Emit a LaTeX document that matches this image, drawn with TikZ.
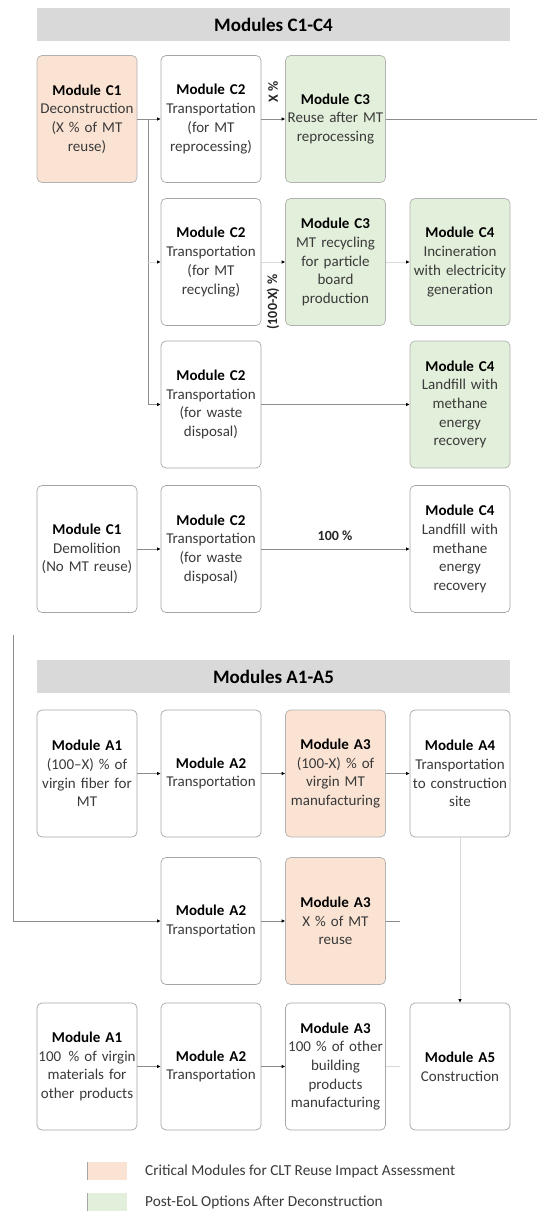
\documentclass[tikz,border=0pt]{standalone}
\usepackage{fontspec}
\setmainfont{Carlito}
\usetikzlibrary{arrows.meta}
\definecolor{peach}{HTML}{FBE3D3}
\definecolor{mint}{HTML}{E2EFDA}
\definecolor{hdr}{HTML}{D9D9D9}
\definecolor{txt}{HTML}{3A3A3A}
\begin{document}
\begin{tikzpicture}[x=1pt,y=-1pt,
  box/.style={draw=black!35, line width=0.7pt, rounded corners=5pt, fill=white,
    minimum width=100pt, minimum height=127pt, text width=100pt, align=center,
    inner sep=0pt, text=txt, font=\fontsize{15}{18.7}\selectfont},
  crit/.style={box, fill=peach, draw=black!30},
  post/.style={box, fill=mint, draw=black!30},
  conn/.style={draw=black!45, line width=0.7pt, -{Latex[length=3.5pt,width=3.5pt,black]}},
  faint/.style={draw=black!15, line width=0.7pt, -{Latex[length=3.5pt,width=3.5pt,black]}},
  plain/.style={draw=black!45, line width=0.7pt},
  hdrbar/.style={fill=hdr, draw=none, minimum width=473pt, minimum height=33pt,
    font=\bfseries\fontsize{19}{22}\selectfont, inner sep=0pt},
  lbl/.style={font=\bfseries\fontsize{14}{16}\selectfont, text=black!85, inner sep=1pt},
  legtxt/.style={font=\fontsize{15.3}{17}\selectfont, text=txt, anchor=west, inner sep=0pt}
]
\useasboundingbox (0,0) rectangle (539,1211);
% headers
\node[hdrbar] (hc) at (273.5,24.5) {Modules C1-C4};
\node[hdrbar] (ha) at (273.5,676.5) {Modules A1-A5};
% C rows
\node[crit] (c1a) at (87,119) {\textbf{\color{black}Module C1}\\Deconstruction\\(X \% of MT\\reuse)};
\node[box] (c2a) at (211,119) {\textbf{\color{black}Module C2}\\Transportation\\(for MT\\reprocessing)};
\node[post] (c3a) at (335.5,119) {\textbf{\color{black}Module C3}\\Reuse after MT\\reprocessing};
\node[box] (c2b) at (211,262) {\textbf{\color{black}Module C2}\\Transportation\\(for MT\\recycling)};
\node[post] (c3b) at (335.5,262) {\textbf{\color{black}Module C3}\\MT recycling\\for particle\\board\\production};
\node[post] (c4b) at (460,262) {\textbf{\color{black}Module C4}\\Incineration\\with electricity\\generation};
\node[box] (c2c) at (211,404.5) {\textbf{\color{black}Module C2}\\Transportation\\(for waste\\disposal)};
\node[post] (c4c) at (460,404.5) {\textbf{\color{black}Module C4}\\Landfill with\\methane\\energy\\recovery};
\node[box] (c1d) at (87,549) {\textbf{\color{black}Module C1}\\Demolition\\(No MT reuse)};
\node[box] (c2d) at (211,549) {\textbf{\color{black}Module C2}\\Transportation\\(for waste\\disposal)};
\node[box] (c4d) at (460,549) {\textbf{\color{black}Module C4}\\Landfill with\\methane\\energy\\recovery};
% A rows
\node[box] (a1a) at (87,773.5) {\textbf{\color{black}Module A1}\\(100--X) \% of\\virgin fiber for\\MT};
\node[box] (a2a) at (211,773.5) {\textbf{\color{black}Module A2}\\Transportation};
\node[crit] (a3a) at (335.5,773.5) {\textbf{\color{black}Module A3}\\(100-X) \% of\\virgin MT\\manufacturing};
\node[box] (a4a) at (460,773.5) {\textbf{\color{black}Module A4}\\Transportation\\to construction\\site};
\node[box] (a2b) at (211,921) {\textbf{\color{black}Module A2}\\Transportation};
\node[crit] (a3b) at (335.5,921) {\textbf{\color{black}Module A3}\\X \% of MT\\reuse};
\node[box] (a1c) at (87,1066.5) {\textbf{\color{black}Module A1}\\\mbox{100~\,\% of virgin}\\materials for\\other products};
\node[box] (a2c) at (211,1066.5) {\textbf{\color{black}Module A2}\\Transportation};
\node[box] (a3c) at (335.5,1066.5) {\textbf{\color{black}Module A3}\\100 \% of other\\building\\products\\manufacturing};
\node[box] (a5c) at (460,1066.5) {\textbf{\color{black}Module A5}\\Construction};
% coordinates
\coordinate (j1) at (148,119);
\coordinate (j2) at (148,262);
\coordinate (j3) at (148,404.5);
\coordinate (re) at (537,119);
\coordinate (l0) at (13,635);
\coordinate (l1) at (13,921);
\coordinate (s1) at (400,921);
\coordinate (s2) at (400,1066.5);
% C connectors
\draw[conn] (c1a.east) -- (c2a.west);
\draw[plain] (j1) -- (j3);
\draw[faint] (j2) -- (c2b.west);
\draw[conn] (j3) -- (c2c.west);
\draw[conn] (c2a.east) -- (c3a.west);
\draw[plain] (c3a.east) -- (re);
\draw[faint] (c2b.east) -- (c3b.west);
\draw[faint] (c3b.east) -- (c4b.west);
\draw[conn] (c2c.east) -- (c4c.west);
\draw[conn] (c1d.east) -- (c2d.west);
\draw[conn] (c2d.east) -- (c4d.west);
% labels
\node[lbl, rotate=90] (lx) at (273,92) {X \%};
\node[lbl, rotate=90] (lx2) at (273,302) {(100-X) \%};
\node[lbl] (l100) at (335,536) {100 \%};
% A connectors
\draw[conn] (a1a.east) -- (a2a.west);
\draw[conn] (a2a.east) -- (a3a.west);
\draw[conn] (a3a.east) -- (a4a.west);
\draw[conn] (l0) -- (l1) -- (a2b.west);
\draw[conn] (a2b.east) -- (a3b.west);
\draw[plain] (a3b.east) -- (s1);
\draw[faint] (a4a.south) -- (a5c.north);
\draw[conn] (a1c.east) -- (a2c.west);
\draw[conn] (a2c.east) -- (a3c.west);
\draw[draw=black!15, line width=0.7pt] (a3c.east) -- (s2);
% legend
\fill[peach] (87,1162) rectangle (127,1180);
\draw[black!35, line width=0.8pt] (87.5,1162) -- (87.5,1180);
\node[legtxt] (lg1) at (145,1171) {Critical Modules for CLT Reuse Impact Assessment};
\fill[mint] (87,1193) rectangle (127,1211);
\draw[black!35, line width=0.8pt] (87.5,1193) -- (87.5,1211);
\node[legtxt] (lg2) at (145,1202) {Post-EoL Options After Deconstruction};
\end{tikzpicture}
\end{document}
